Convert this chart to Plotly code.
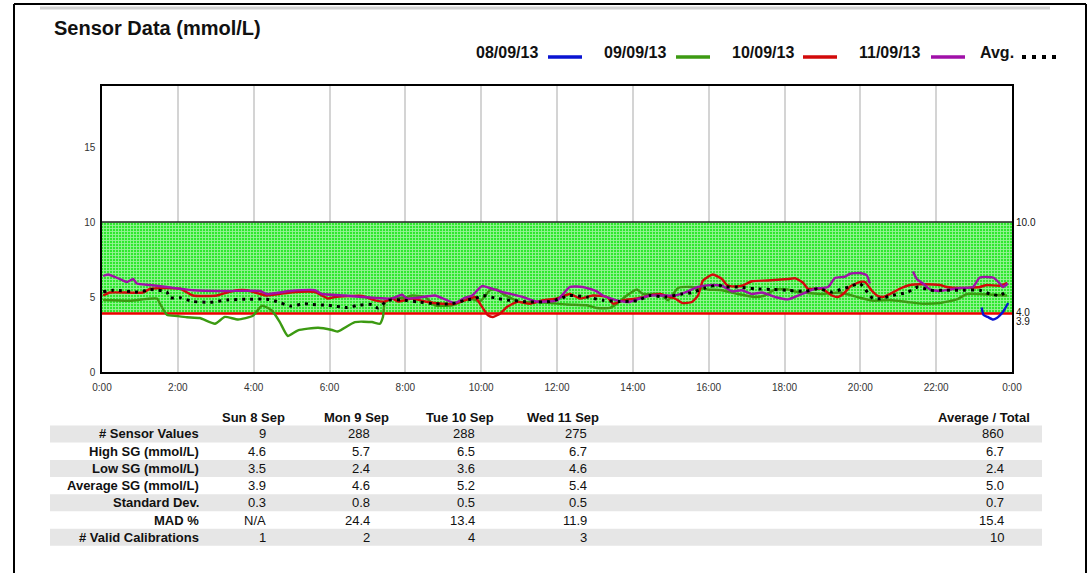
import plotly.graph_objects as go

# ---------------- data ----------------
hours_0809 = [23.2, 23.25, 23.36, 23.5, 23.6, 23.68, 23.76, 23.82, 23.9]
sg_0809 = [4.3, 3.8, 3.67, 3.5, 3.6, 3.78, 4.0, 4.25, 4.6]

hours_0909 = [0.03, 0.74, 1.45, 1.53, 1.71, 1.98, 2.24, 2.58, 2.98, 3.24,
              3.59, 3.98, 4.22, 4.48, 4.69, 4.9, 5.17, 5.7, 6.07, 6.22,
              6.67, 7.12, 7.33, 7.41, 7.46, 7.65, 7.99, 8.18, 8.52, 8.78,
              9.23, 9.39, 9.7, 9.97, 10.23, 10.42, 10.57, 11.02, 11.47, 12.26,
              12.79, 13.05, 13.4, 13.58, 13.84, 14.11, 14.27, 14.72, 14.93, 15.19,
              15.56, 15.98, 16.35, 16.77, 17.22, 17.48, 17.75, 18.09, 18.35, 18.99,
              19.46, 19.99, 20.33, 20.78, 21.23, 21.65, 22.1, 22.55, 22.81, 23.15,
              23.87]
sg_0909 = [4.8, 4.75, 4.9, 4.55, 3.82, 3.73, 3.65, 3.6, 3.22, 3.67,
           3.5, 3.75, 4.42, 4.1, 3.33, 2.4, 2.78, 2.95, 2.8, 2.7,
           3.33, 3.33, 3.22, 3.67, 4.67, 4.9, 4.95, 5.1, 5.0, 4.44,
           4.44, 4.6, 4.9, 4.7, 5.45, 5.5, 5.2, 4.67, 4.67, 4.5,
           4.45, 4.27, 4.27, 4.55, 5.1, 5.5, 5.2, 5.2, 4.78, 5.6,
           5.67, 5.5, 5.45, 5.2, 5.0, 5.1, 5.5, 5.5, 5.33, 5.2,
           5.3, 4.95, 4.75, 4.8, 4.67, 4.55, 4.6, 4.84, 5.2, 5.2,
           5.1]

hours_1009 = [0.03, 0.21, 1.08, 1.27, 2.06, 2.4, 3.03, 3.3, 3.56, 3.82,
              4.17, 4.35, 4.96, 5.62, 5.96, 6.14, 6.86, 7.2, 7.46, 7.65,
              7.81, 8.18, 8.52, 8.97, 9.31, 9.57, 9.84, 9.97, 10.18, 10.31,
              10.5, 10.68, 10.94, 11.29, 11.63, 12.0, 12.34, 12.61, 12.95, 13.32,
              13.48, 13.74, 14.11, 14.45, 14.72, 14.85, 15.11, 15.3, 15.56, 15.72,
              15.85, 16.11, 16.35, 16.48, 16.69, 16.88, 17.14, 17.56, 18.09, 18.28,
              18.49, 18.62, 18.99, 19.25, 19.41, 19.59, 19.73, 19.99, 20.12, 20.31,
              20.44, 20.6, 20.78, 21.04, 21.31, 21.57, 22.1, 22.28, 22.63, 23.15,
              23.34, 23.68, 23.87]
sg_1009 = [5.1, 5.3, 5.3, 5.55, 5.55, 5.1, 5.1, 5.3, 5.45, 5.45,
           5.2, 5.1, 5.3, 5.33, 4.9, 5.0, 5.07, 4.78, 4.7, 4.9,
           4.7, 4.9, 4.7, 4.55, 4.55, 4.78, 5.0, 4.55, 3.78, 3.67,
           3.9, 4.33, 4.67, 4.55, 4.78, 4.9, 5.2, 4.9, 5.1, 5.0,
           4.55, 4.78, 4.9, 5.1, 5.2, 5.1, 4.9, 4.6, 4.67, 5.1,
           6.1, 6.5, 6.2, 5.8, 5.7, 5.75, 6.05, 6.1, 6.2, 6.25,
           5.95, 5.55, 5.55, 5.1, 5.0, 5.3, 5.7, 6.0, 6.0, 5.4,
           5.1, 5.0, 5.2, 5.55, 5.8, 5.85, 5.8, 5.67, 5.6, 5.67,
           5.8, 5.75, 5.95]

hours_1109 = [0.03, 0.16, 0.47, 0.66, 0.82, 0.92, 1.27, 1.71, 2.06, 2.4,
              3.3, 4.17, 4.35, 4.96, 5.62, 5.8, 6.41, 6.86, 7.46, 7.65,
              7.91, 8.04, 8.33, 8.78, 9.05, 9.31, 9.57, 9.76, 10.02, 10.23,
              10.57, 11.1, 11.47, 12.0, 12.34, 12.68, 13.05, 13.21, 13.58, 13.92,
              14.19, 14.45, 14.72, 15.11, 15.45, 15.72, 16.09, 16.35, 16.61, 16.88,
              17.14, 17.41, 17.75, 18.09, 18.46, 18.8, 19.15, 19.33, 19.59, 19.73,
              19.99, 20.17, 20.25, None, 21.39, 21.49, 21.65, 21.84, 22.1, 22.36,
              22.63, 22.97, 23.15, 23.5, 23.68, 23.76, 23.89]
sg_1109 = [6.4, 6.5, 6.2, 6.0, 6.2, 5.9, 5.8, 5.67, 5.55, 5.45,
           5.4, 5.4, 5.2, 5.4, 5.45, 5.2, 5.1, 5.0, 4.9, 4.9,
           5.15, 4.9, 4.95, 5.1, 4.84, 4.6, 4.95, 5.1, 5.73, 5.6,
           5.33, 5.0, 4.7, 4.78, 5.67, 5.67, 5.38, 5.1, 4.78, 4.67,
           4.9, 5.1, 5.1, 5.1, 5.38, 5.67, 5.8, 5.75, 5.38, 5.45,
           5.2, 5.3, 5.0, 4.84, 5.2, 5.55, 5.67, 6.27, 6.35, 6.55,
           6.6, 6.45, 5.9, None, 6.7, 6.2, 5.9, 5.5, 5.4, 5.5,
           5.6, 5.67, 6.3, 6.3, 5.9, 5.67, 5.9]

hours_avg = [0.03, 0.29, 1.0, 1.27, 1.71, 1.79, 2.06, 2.4, 2.85, 3.3,
             3.82, 4.35, 4.61, 4.96, 5.35, 5.56, 5.96, 6.46, 6.8, 7.12,
             7.28, 7.54, 7.91, 8.33, 8.78, 9.23, 9.57, 9.84, 10.05, 10.42,
             10.76, 11.29, 11.81, 12.08, 12.34, 12.79, 13.21, 13.66, 14.11, 14.45,
             14.85, 15.3, 15.56, 15.9, 16.24, 16.43, 16.77, 17.22, 17.67, 18.09,
             18.54, 18.88, 19.25, 19.54, 19.73, 19.99, 20.33, 20.57, 20.78, 21.23,
             21.52, 21.84, 22.28, 22.71, 23.15, 23.42, 23.68, 23.87]
sg_avg = [5.35, 5.45, 5.33, 5.5, 5.33, 4.95, 4.95, 4.7, 4.65, 4.8,
          4.85, 4.85, 4.7, 4.4, 4.55, 4.5, 4.45, 4.3, 4.47, 4.5,
          4.27, 4.78, 4.8, 4.67, 4.55, 4.55, 4.78, 4.9, 5.1, 4.9,
          4.78, 4.67, 4.7, 4.9, 5.1, 5.0, 4.78, 4.7, 4.75, 5.1,
          5.0, 5.2, 5.3, 5.6, 5.8, 5.67, 5.67, 5.55, 5.5, 5.45,
          5.38, 5.55, 5.33, 5.55, 5.7, 5.9, 4.9, 4.9, 5.07, 5.3,
          5.67, 5.45, 5.45, 5.45, 5.45, 5.2, 5.1, 5.4]

target_low = 3.9
target_high = 10.0
limit_labels = ["10.0", "4.0", "3.9"]
limit_values = [10.0, 4.0, 3.9]

x_tick_vals = [0, 2, 4, 6, 8, 10, 12, 14, 16, 18, 20, 22, 24]
x_tick_text = ["0:00", "2:00", "4:00", "6:00", "8:00", "10:00", "12:00",
               "14:00", "16:00", "18:00", "20:00", "22:00", "0:00"]
y_tick_vals = [0, 5, 10, 15]

series_names = ["08/09/13", "09/09/13", "10/09/13", "11/09/13", "Avg."]
series_colors = ["#0a14d2", "#3c9a12", "#d20a0a", "#a010a8", "#000000"]

row_labels = ["# Sensor Values", "High SG (mmol/L)", "Low SG (mmol/L)",
              "Average SG (mmol/L)", "Standard Dev.", "MAD %", "# Valid Calibrations"]
col_headers = ["Sun 8 Sep", "Mon 9 Sep", "Tue 10 Sep", "Wed 11 Sep"]
col_sun = ["9", "4.6", "3.5", "3.9", "0.3", "N/A", "1"]
col_mon = ["288", "5.7", "2.4", "4.6", "0.8", "24.4", "2"]
col_tue = ["288", "6.5", "3.6", "5.2", "0.5", "13.4", "4"]
col_wed = ["275", "6.7", "4.6", "5.4", "0.5", "11.9", "3"]
total_header = "Average / Total"
col_total = ["860", "6.7", "2.4", "5.0", "0.7", "15.4", "10"]

# ---------------- layout geometry (screen pixels) ----------------
W, H = 1091, 573
SL, SR, ST, SB = 102, 1012, 86, 372      # plot area
Y_MAX = (SB - ST) / 15.0
FONT = "Liberation Sans, Arial, Helvetica, sans-serif"


def px(x):
    return (x - SL) / (SR - SL)


def py(y):
    return (SB - y) / (SB - ST)


fig = go.Figure()

# target range band with fine grid pattern
fig.add_trace(go.Scatter(
    x=[0, 24, 24, 0], y=[target_low, target_low, target_high, target_high],
    fill="toself", mode="lines", line=dict(width=0),
    fillpattern=dict(shape="+", bgcolor="#2ee82e", fgcolor="#ffffff", size=3, solidity=0.5),
    hoverinfo="skip", showlegend=False))
fig.add_trace(go.Scatter(x=[0, 24], y=[target_high, target_high], mode="lines",
                         line=dict(color="#222222", width=1.3), hoverinfo="skip", showlegend=False))
fig.add_trace(go.Scatter(x=[0, 24], y=[target_low, target_low], mode="lines",
                         line=dict(color="#ee0000", width=2.5), hoverinfo="skip", showlegend=False))

series = [(hours_0809, sg_0809), (hours_0909, sg_0909), (hours_1009, sg_1009), (hours_1109, sg_1109)]
for (hx, hy), name, col in zip(series, series_names[:4], series_colors[:4]):
    fig.add_trace(go.Scatter(x=hx, y=hy, name=name, mode="lines",
                             line=dict(color=col, width=2.4, shape="spline", smoothing=0.5),
                             showlegend=False))
fig.add_trace(go.Scatter(x=hours_avg, y=sg_avg, name="Avg.", mode="lines",
                         line=dict(color="#000000", width=3, dash="3px,5px", shape="spline", smoothing=0.5),
                         showlegend=False))

shapes = []
annotations = []

# right-hand limit labels
for lab, val in zip(limit_labels, limit_values):
    annotations.append(dict(x=24, y=val, xref="x", yref="y", text=lab, showarrow=False,
                            xanchor="left", yanchor="middle", xshift=2,
                            yshift=(-8 if lab == "3.9" else 0),
                            font=dict(family=FONT, size=10, color="#111")))

# title
annotations.append(dict(x=px(52), y=py(28), xref="paper", yref="paper", text="<b>Sensor Data (mmol/L)</b>",
                        showarrow=False, xanchor="left", yanchor="middle",
                        font=dict(family=FONT, size=20, color="#111")))

# manual legend: text then line sample
leg_text_right = [540, 668, 796, 923, 1016]
leg_line = [(548, 582), (676, 710), (803, 837), (931, 965), (1022, 1058)]
for name, col, xr, (l0, l1) in zip(series_names, series_colors, leg_text_right, leg_line):
    annotations.append(dict(x=px(xr), y=py(53), xref="paper", yref="paper", text="<b>%s</b>" % name,
                            showarrow=False, xanchor="right", yanchor="middle",
                            font=dict(family=FONT, size=16, color="#111")))
    shapes.append(dict(type="line", xref="paper", yref="paper", x0=px(l0), x1=px(l1), y0=py(57), y1=py(57),
                       line=dict(color=col, width=3.5 if name != "Avg." else 4,
                                 dash="solid" if name != "Avg." else "4px,6px")))

# page frame
shapes.append(dict(type="line", xref="paper", yref="paper", x0=px(40), x1=px(1050), y0=py(8), y1=py(8),
                   line=dict(color="#d2d2d2", width=3)))
shapes.append(dict(type="line", xref="paper", yref="paper", x0=px(14), x1=px(14), y0=py(4), y1=py(580),
                   line=dict(color="#000", width=2)))
shapes.append(dict(type="line", xref="paper", yref="paper", x0=px(1086), x1=px(1086), y0=py(4), y1=py(580),
                   line=dict(color="#000", width=2)))
shapes.append(dict(type="line", xref="paper", yref="paper", x0=px(14), x1=px(1086), y0=py(4), y1=py(4),
                   line=dict(color="#000", width=2)))

# table
header_y = 417
row_y = [434 + 17.2 * i for i in range(len(row_labels))]
for i, yy in enumerate(row_y):
    if i % 2 == 0:
        shapes.append(dict(type="rect", xref="paper", yref="paper", x0=px(50), x1=px(1042),
                           y0=py(yy + 8.5), y1=py(yy - 8.5), fillcolor="#e6e6e6",
                           line=dict(width=0), layer="below"))

col_center = [253, 356, 460, 563]
col_right = [268, 372, 477, 589]
for h, xc in zip(col_headers, col_center):
    annotations.append(dict(x=px(xc), y=py(header_y), xref="paper", yref="paper", text="<b>%s</b>" % h,
                            showarrow=False, xanchor="center", yanchor="middle",
                            font=dict(family=FONT, size=13, color="#111")))
annotations.append(dict(x=px(1032), y=py(header_y), xref="paper", yref="paper", text="<b>%s</b>" % total_header,
                        showarrow=False, xanchor="right", yanchor="middle",
                        font=dict(family=FONT, size=13, color="#111")))

for i, (lab, yy) in enumerate(zip(row_labels, row_y)):
    annotations.append(dict(x=px(201), y=py(yy), xref="paper", yref="paper", text="<b>%s</b>" % lab,
                            showarrow=False, xanchor="right", yanchor="middle",
                            font=dict(family=FONT, size=13, color="#111")))
    for col_vals, xr in zip([col_sun, col_mon, col_tue, col_wed], col_right):
        annotations.append(dict(x=px(xr), y=py(yy), xref="paper", yref="paper", text=col_vals[i],
                                showarrow=False, xanchor="right", yanchor="middle",
                                font=dict(family=FONT, size=13, color="#111")))
    annotations.append(dict(x=px(1006), y=py(yy), xref="paper", yref="paper", text=col_total[i],
                            showarrow=False, xanchor="right", yanchor="middle",
                            font=dict(family=FONT, size=13, color="#111")))

fig.update_layout(
    width=W, height=H,
    margin=dict(l=SL, r=W - SR, t=ST, b=H - SB, pad=0),
    paper_bgcolor="white", plot_bgcolor="white",
    showlegend=False,
    shapes=shapes, annotations=annotations,
    xaxis=dict(range=[0, 24], tickvals=x_tick_vals, ticktext=x_tick_text,
               showgrid=True, gridcolor="#d4d4d4", gridwidth=2, zeroline=False,
               showline=True, linecolor="#000", linewidth=1.5, mirror=True,
               ticks="outside", ticklen=5, tickcolor="rgba(0,0,0,0)",
               tickfont=dict(family=FONT, size=10, color="#333")),
    yaxis=dict(range=[0, Y_MAX], tickvals=y_tick_vals,
               showgrid=False, zeroline=False,
               showline=True, linecolor="#000", linewidth=1.5, mirror=True,
               ticks="outside", ticklen=3, tickcolor="rgba(0,0,0,0)",
               tickfont=dict(family=FONT, size=10, color="#333")),
)

# remove the default 8px page margin so the figure fills the window exactly
fig.write_html("out.html", config={"displayModeBar": False},
               post_script="document.body.style.margin='0px';document.body.style.overflow='hidden';")
